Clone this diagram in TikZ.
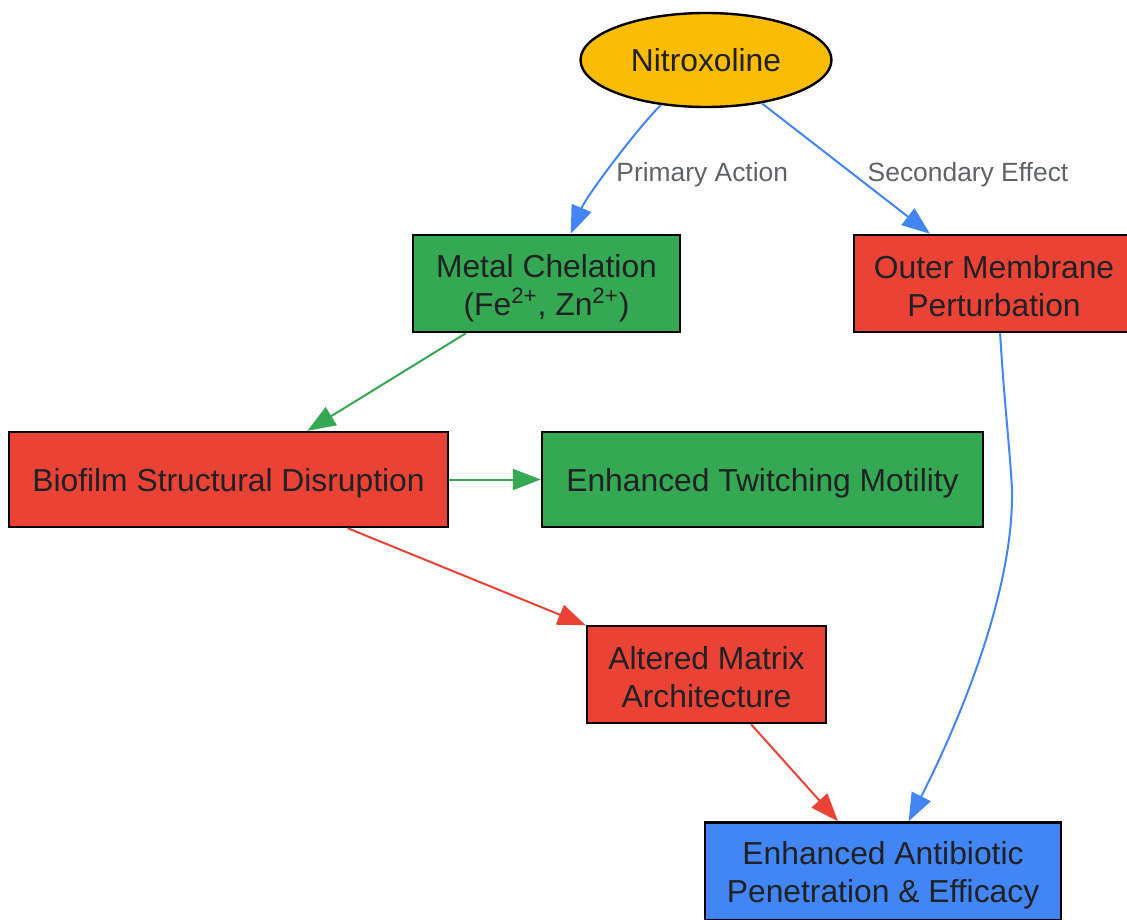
\documentclass[tikz,border=0pt]{standalone}
\usepackage{fontspec}
\setmainfont{Liberation Sans}
\usetikzlibrary{arrows.meta,shapes.geometric}

\definecolor{nitroyellow}{HTML}{FBBC05}
\definecolor{chelgreen}{HTML}{34A853}
\definecolor{disred}{HTML}{EA4335}
\definecolor{effblue}{HTML}{4285F4}
\definecolor{txtdark}{HTML}{202124}
\definecolor{lblgrey}{HTML}{5F6368}

\begin{document}
\begin{tikzpicture}[x=0.5pt, y=-0.5pt,
    >={Triangle[length=14pt,width=10.5pt]},
    box/.style = {
      draw = black,
      line width = 1.2pt,
      rectangle,
      inner sep = 0pt,
      text = txtdark,
      align = center,
      font = \fontsize{15.9}{19}\selectfont
    },
    oneline/.style = {execute at begin node = {\rule{0pt}{15.6pt}}},
    edge/.style = {->, line width = 1pt},
    lbl/.style = {
      text = lblgrey,
      inner sep = 0pt,
      font = \fontsize{13.2}{16}\selectfont
    }
  ]
  \useasboundingbox (0,0) rectangle (1127,919);

  \node[box, ellipse, fill = nitroyellow, minimum width = 125.5pt, minimum height = 47pt]
    (nitro) at (706,60) {Nitroxoline};
  \node[box, fill = chelgreen, minimum width = 133.5pt, minimum height = 48.5pt]
    (chelation) at (546.5,283.5) {\rule{0pt}{16.6pt}Metal Chelation\\(Fe\textsuperscript{2+}, Zn\textsuperscript{2+})};
  \node[box, fill = disred, minimum width = 140pt, minimum height = 48.5pt]
    (membrane) at (994,283.5) {\rule{0pt}{14pt}Outer Membrane\\Perturbation};
  \node[box, oneline, fill = disred, minimum width = 219.5pt, minimum height = 47.5pt]
    (biofilm) at (228.5,479.5) {Biofilm Structural Disruption};
  \node[box, oneline, fill = chelgreen, minimum width = 220.5pt, minimum height = 47.5pt]
    (twitching) at (762.5,479.5) {Enhanced Twitching Motility};
  \node[box, fill = disred, minimum width = 119.5pt, minimum height = 48.5pt]
    (matrix) at (706.5,674.5) {\rule{0pt}{14.6pt}Altered Matrix\\Architecture};
  \node[box, fill = effblue, minimum width = 178pt, minimum height = 49pt]
    (efficacy) at (883,871.5) {\rule{0pt}{15.6pt}Enhanced Antibiotic\\Penetration \& Efficacy};

  % edges out of the drug
  \draw[edge, effblue] (nitro.225) .. controls (640,125) and (587,195) .. (chelation.64);
  \draw[edge, effblue] (nitro) -- (membrane);
  \node[lbl, anchor = west] (primary) at (616,175) {Primary Action};
  \node[lbl] (secondary) at (968,175) {Secondary Effect};

  % downstream effects
  \draw[edge, chelgreen] (chelation) -- (biofilm);
  \draw[edge, chelgreen] (biofilm) -- (twitching);
  \draw[edge, disred] (biofilm) -- (matrix);
  \draw[edge, disred] (matrix) -- (efficacy);
  \coordinate (bend) at (1012,490);
  \draw[edge, effblue] (membrane.-83) .. controls (1004,400) and (1010,450) .. (bend)
    .. controls (1014,600) and (950,740) .. (efficacy.63);
\end{tikzpicture}
\end{document}
